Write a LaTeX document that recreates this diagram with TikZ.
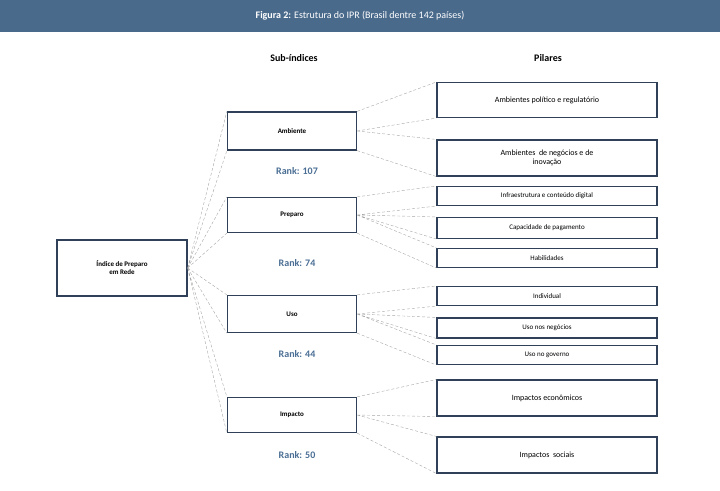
\documentclass[tikz,border=0pt]{standalone}
\usepackage{fontspec}
\setmainfont{Carlito}
\definecolor{barblue}{HTML}{4A6A8C}
\definecolor{boxline}{HTML}{2F4058}
\definecolor{rankblue}{HTML}{4A6E94}
\begin{document}
\begin{tikzpicture}[x=1pt,y=-1pt,
    sub/.style={draw=boxline,line width=1.3pt,minimum width=129pt,font=\bfseries\scriptsize},
    pil/.style={draw=boxline,line width=1.1pt,minimum width=220pt,align=center,font=\footnotesize},
    fan/.style={draw=gray!70,densely dashed,line width=0.4pt},
    rank/.style={text=rankblue,font=\bfseries\normalsize}]
        \useasboundingbox (0,0) rectangle (720,490);
        \fill[barblue] (0,0) rectangle (720,32);
        \node[text=white] (title) at (360,16) {\textbf{Figura 2:} Estrutura do IPR (Brasil dentre 142 países)};
        \node[font=\bfseries] (hsub) at (294,58) {Sub-índices};
        \node[font=\bfseries] (hpil) at (548,58) {Pilares};
        % root
        \node[draw=boxline,line width=1.3pt,minimum width=130pt,minimum height=56pt,align=center,font=\bfseries\scriptsize] (ipr) at (122,268) {Índice de Preparo\\em Rede};
        % sub-indices
        \node[sub,minimum height=38pt] (amb) at (292,131) {Ambiente};
        \node[sub,minimum height=35pt] (pre) at (292,215) {Preparo};
        \node[sub,minimum height=37pt] (uso) at (292,314) {Uso};
        \node[sub,minimum height=35pt] (imp) at (292,415) {Impacto};
        \node[rank] (r1) at (297,171) {Rank: 107};
        \node[rank] (r2) at (297,263) {Rank: 74};
        \node[rank] (r3) at (297,354) {Rank: 44};
        \node[rank] (r4) at (297,455) {Rank: 50};
        % pillars
        \node[pil,minimum height=35pt] (p1) at (547,100) {Ambientes político e regulatório};
        \node[pil,minimum height=36pt] (p2) at (547,158) {Ambientes\ \ de negócios e de\\inovação};
        \node[pil,minimum height=19pt,font=\scriptsize] (p3) at (547,196) {Infraestrutura e conteúdo digital};
        \node[pil,minimum height=21pt,font=\scriptsize] (p4) at (547,228) {Capacidade de pagamento};
        \node[pil,minimum height=19pt,font=\scriptsize] (p5) at (547,258) {Habilidades};
        \node[pil,minimum height=19pt,font=\scriptsize] (p6) at (547,296) {Individual};
        \node[pil,minimum height=20pt,font=\scriptsize] (p7) at (547,328) {Uso nos negócios};
        \node[pil,minimum height=19pt,font=\scriptsize] (p8) at (547,355) {Uso no governo};
        \node[pil,minimum height=36pt] (p9) at (547,398) {Impactos econômicos};
        \node[pil,minimum height=36pt] (p10) at (547,455) {Impactos\ \ sociais};
        % connectors
        \foreach \s in {amb,pre,uso,imp}
            \draw[fan] (ipr.east) -- (\s.north west) (ipr.east) -- (\s.south west);
        \draw[fan] (amb.north east) -- (p1.north west) (amb.east) -- (p1.south west)
            (amb.east) -- (p2.north west) (amb.south east) -- (p2.south west);
        \draw[fan] (pre.north east) -- (p3.north west) (pre.east) -- (p3.south west)
            (pre.east) -- (p4.north west) (pre.east) -- (p4.south west)
            (pre.east) -- (p5.north west) (pre.south east) -- (p5.south west);
        \draw[fan] (uso.north east) -- (p6.north west) (uso.east) -- (p6.south west)
            (uso.east) -- (p7.north west) (uso.east) -- (p7.south west)
            (uso.east) -- (p8.north west) (uso.south east) -- (p8.south west);
        \draw[fan] (imp.north east) -- (p9.north west) (imp.east) -- (p9.south west)
            (imp.east) -- (p10.north west) (imp.south east) -- (p10.south west);
\end{tikzpicture}
\end{document}
